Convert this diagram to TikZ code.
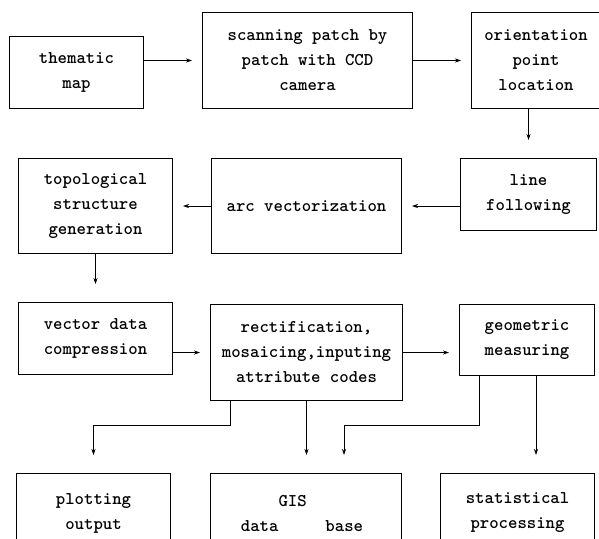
\documentclass[tikz,border=0pt]{standalone}
\usepackage{tikz}
\usetikzlibrary{arrows.meta, positioning}

\begin{document}
\begin{tikzpicture}[
            >={Stealth[length=6pt,width=4pt]},
            line width=0.7pt,
            box/.style={draw, line width=1pt, align=center, inner sep=0pt,
                font=\fontsize{17.9}{25}\selectfont\ttfamily\bfseries},
            txt/.style={align=center, font=\fontsize{17.9}{25}\selectfont\ttfamily\bfseries},
            flow/.style={->, shorten >=10pt},
            drop/.style={->, shorten >=18pt}]
            \useasboundingbox (0,0) rectangle (599pt,-538pt);
            \clip (0,0) rectangle (599pt,-538pt);

            \node [box, minimum width=134pt, minimum height=72pt, anchor=north west] (map) at (9pt,-36pt) {thematic\\map};
            \node [box, minimum width=210pt, minimum height=96pt] (scan) [right=58pt of map.south east, anchor=south west] {scanning patch by\\patch with CCD\\camera};
            \node [box, minimum width=129pt, minimum height=96pt] (orient) [right=58pt of scan.south east, anchor=south west] {orientation\\point\\location};

            \node [box, minimum width=136pt, minimum height=72pt] (lfollow) [below=49pt of orient.south east, anchor=north east, xshift=-4pt] {line\\following};
            \node [box, minimum width=190pt, minimum height=95pt] (arc) [left=58pt of lfollow.north west, anchor=north east] {arc vectorization};
            \node [box, minimum width=154pt, minimum height=95pt] (topo) [left=38pt of arc.north west, anchor=north east] {topological\\structure\\generation};

            \node [box, minimum width=154pt, minimum height=72pt] (vector) [below=48pt of topo.south west, anchor=north west] {vector data\\compression};
            \node [box, minimum width=192pt, minimum height=96pt] (rect) [right=37pt of vector.north east, anchor=north west, yshift=-2pt] {rectification,\\mosaicing,inputing\\attribute codes};
            \node [box, minimum width=135pt, minimum height=71pt] (geo) [right=56pt of rect.north east, anchor=north west] {geometric\\measuring};

            \node [box, minimum width=191pt, minimum height=90pt] (gis) [below=72pt of rect.south west, anchor=north west] {};
            \node [box, minimum width=154pt, minimum height=90pt] (plot) [left=39pt of gis.north west, anchor=north east] {};
            \node [box, minimum width=154pt, minimum height=90pt] (stat) [right=38pt of gis.north east, anchor=north west] {};
            \node [txt] (plottxt) at ([yshift=-40pt]plot.north) {plotting\\output};
            \node [txt, align=left] (gistxt) at ([yshift=-40pt, xshift=-4pt]gis.north) {\phantom{abcd}GIS\\data\phantom{abcde}base};
            \node [txt] (stattxt) at ([yshift=-40pt]stat.north) {statistical\\processing};

            \coordinate (r1) at ([xshift=20pt]rect.south west);
            \coordinate (g1) at ([xshift=20pt]geo.south west);
            \coordinate (g2) at ([xshift=-59pt]geo.south east);
            \coordinate (gisin) at ([xshift=38pt]gis.north);

            \draw [flow] (map.east |- scan.west) -- (scan.west);
            \draw [flow] (scan.east) -- (orient.west);
            \draw [drop] (orient.south -| lfollow.north) -- (lfollow.north);
            \draw [flow] (lfollow.west |- arc.east) -- (arc.east);
            \draw [flow] (arc.west) -- (topo.east);
            \draw [drop] (topo.south) -- (vector.north);
            \draw [flow] (vector.east |- rect.west) -- (rect.west);
            \draw [flow] (rect.east) -- (geo.west |- rect.east);
            \draw [drop] (r1) |- ([yshift=48pt]plot.north) -- (plot.north);
            \draw [drop] (rect.south) -- (rect.south |- gis.north);
            \draw [drop] (g1) |- ([yshift=48pt]gisin) -- (gisin);
            \draw [drop] (g2) -- (g2 |- stat.north);
\end{tikzpicture}
\end{document}
